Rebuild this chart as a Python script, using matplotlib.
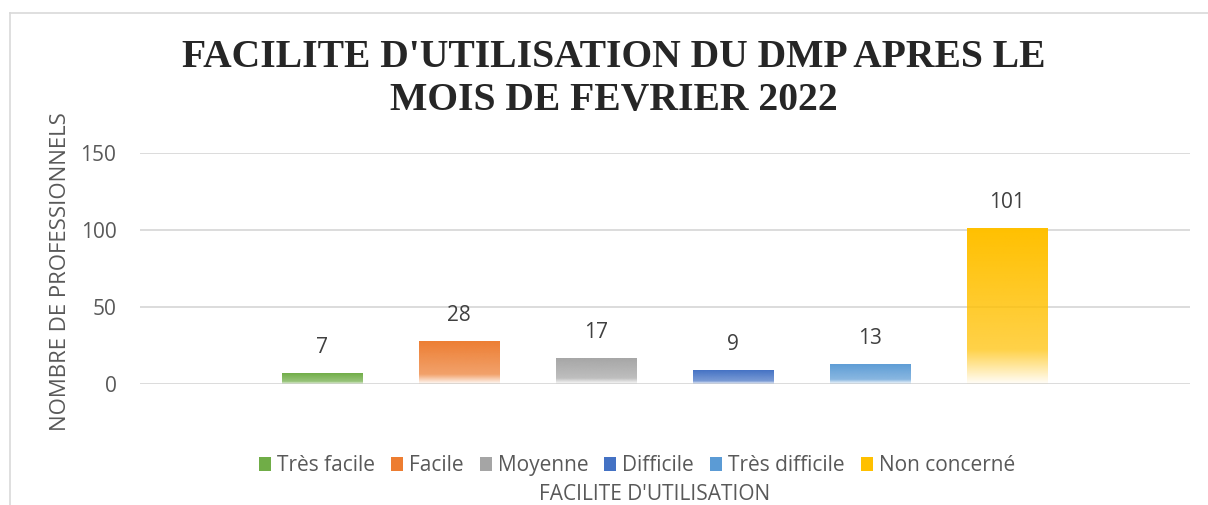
import numpy as np
import matplotlib
matplotlib.use("Agg")
import matplotlib.pyplot as plt
from matplotlib.colors import to_rgb
from matplotlib.patches import Rectangle
from matplotlib.lines import Line2D

categories = ["Très facile", "Facile", "Moyenne", "Difficile", "Très difficile", "Non concerné"]
values = [7, 28, 17, 9, 13, 101]
colors = ["#70AD47", "#ED7D31", "#A5A5A5", "#4472C4", "#5B9BD5", "#FFC000"]
yticks = [0, 50, 100, 150]

title = "FACILITE D'UTILISATION DU DMP APRES LE\nMOIS DE FEVRIER 2022"
xlabel = "FACILITE D'UTILISATION"
ylabel = "NOMBRE DE PROFESSIONNELS"

plt.rcParams['font.family'] = ['Open Sans', 'DejaVu Sans']
txt_col = "#595959"

W, H = 1208, 505
fig = plt.figure(figsize=(W / 100, H / 100), dpi=100)
ax = fig.add_axes([140 / W, 1 - 384 / H, 1050 / W, 231 / H])

x = np.arange(len(values))
width = 0.59
bars = ax.bar(x, values, width, color="none", edgecolor="none", zorder=3)


def gradient_img(col, n=200):
    # solid at top, fading to white at the bottom
    r, g, b = to_rgb(col)
    t = np.linspace(0, 1, n)  # 0 = top, 1 = bottom
    alpha = np.interp(t, [0, 0.78, 1.0], [1.0, 0.72, 0.03])
    img = np.zeros((n, 1, 4))
    img[:, 0, 0] = r
    img[:, 0, 1] = g
    img[:, 0, 2] = b
    img[:, 0, 3] = alpha
    return img


for rect, col in zip(bars, colors):
    x0 = rect.get_x()
    h = rect.get_height()
    im = ax.imshow(gradient_img(col), extent=[x0, x0 + rect.get_width(), 0, h],
                   aspect="auto", zorder=2, interpolation="bilinear")
    im.set_clip_path(rect)

for xi, v in zip(x, values):
    ax.annotate(str(v), (xi, v), xytext=(0, 18.5), textcoords="offset points",
                ha="center", va="center", fontsize=15, color="#404040")

ax.set_xlim(-1.328, 5 + 1.336)
ax.set_ylim(0, 150)
ax.set_yticks(yticks)
ax.set_xticks([])
ax.yaxis.grid(True, color="#D9D9D9", linewidth=1.3, zorder=0)
ax.set_axisbelow(True)
for s in ax.spines.values():
    s.set_visible(False)
ax.tick_params(axis="y", length=0, labelsize=15, labelcolor=txt_col, pad=17)

fig.text(61 / W, 1 - 272 / H, ylabel, rotation=90, ha="center", va="center",
         fontsize=16, color=txt_col)
fig.text(655 / W, 1 - 494 / H, xlabel, ha="center", va="center",
         fontsize=15, color=txt_col)

fig.text(614 / W, 1 - 79 / H, title, ha="center", va="center",
         fontsize=28.5, fontweight="bold", family="Liberation Serif",
         color="#262626", linespacing=1.2)

# legend drawn by hand so every label sits on the same baseline
renderer = fig.canvas.get_renderer()
sq_w, sq_h, gap_in, gap_out = 12, 14, 6, 16
baseline = 471
texts = [fig.text(0, 1 - baseline / H, lab, fontsize=15, color=txt_col,
                  ha="left", va="baseline") for lab in categories]
tw = [t.get_window_extent(renderer).width for t in texts]
total = sum(tw) + len(tw) * (sq_w + gap_in) + (len(tw) - 1) * gap_out
cur = 637 - total / 2
for t, w, col in zip(texts, tw, colors):
    fig.add_artist(Rectangle((cur / W, 1 - baseline / H), sq_w / W, sq_h / H,
                             transform=fig.transFigure, facecolor=col, edgecolor="none"))
    cur += sq_w + gap_in
    t.set_x(cur / W)
    cur += w + gap_out

# chart border (left and top only visible)
fig.add_artist(Line2D([10 / W, 10 / W], [0, 1 - 13 / H], transform=fig.transFigure,
                      color="#D9D9D9", linewidth=1.2))
fig.add_artist(Line2D([10 / W, 1], [1 - 13 / H, 1 - 13 / H], transform=fig.transFigure,
                      color="#D9D9D9", linewidth=1.2))

fig.savefig("out.png", dpi=100)
